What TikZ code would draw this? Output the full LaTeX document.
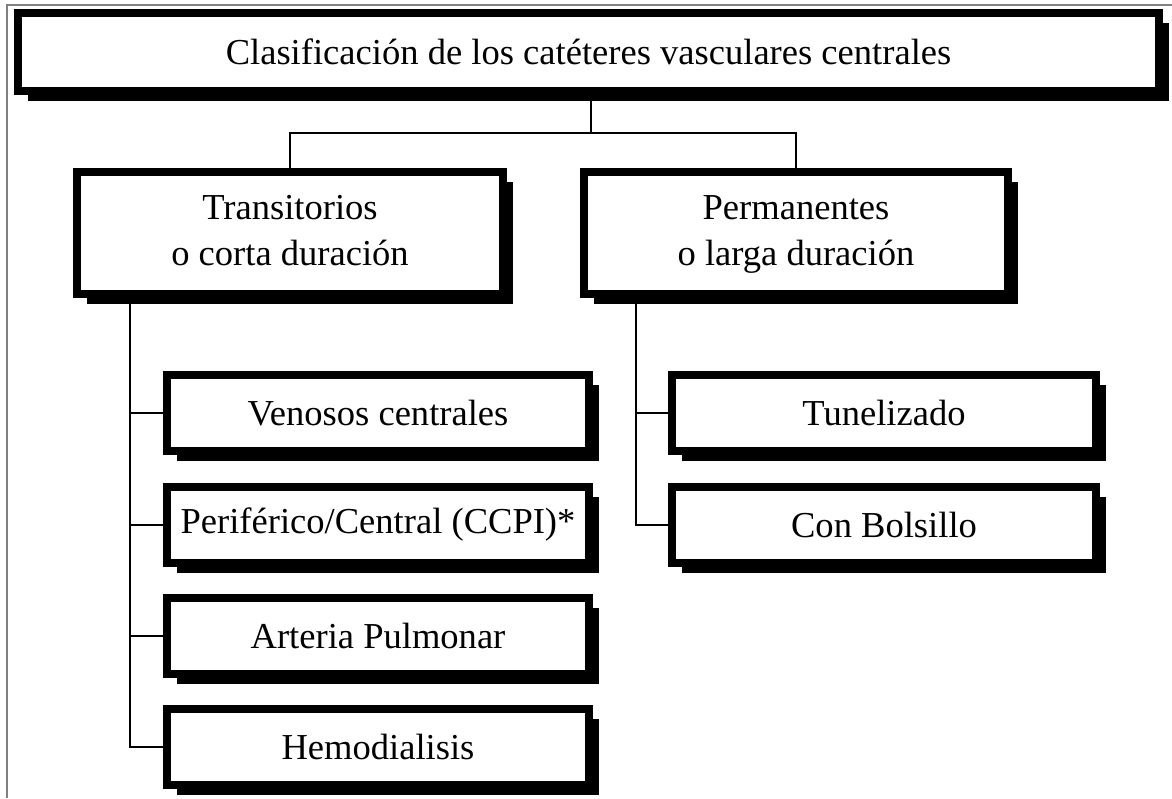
\documentclass[tikz,border=0pt]{standalone}
\usepackage{fontspec}
\setmainfont{Liberation Serif}
\usetikzlibrary{shadows}

\tikzset{
  catbox/.style={draw, fill=white, line width=4.5pt, rectangle, align=center,
    font=\fontsize{20.8}{26.5}\selectfont,
    drop shadow={opacity=1, fill=black, shadow xshift=0.2cm, shadow yshift=-0.2cm}},
  link/.style={line width=0.8pt},
  trunk/.style={line width=1.3pt}
}

\begin{document}
\begin{tikzpicture}[x=0.02cm, y=-0.02cm]
	  \useasboundingbox (0, 0) rectangle (1172, 798);
	  % outer frame
	  \draw[gray, line width=0.8pt](7, 798) |- (1172, 5);
	  % title
	  \node[catbox, minimum width=22.82cm, minimum height=1.56cm] (title) at (588.5, 52)
	    {Clasificaci\'on de los cat\'eteres vasculares centrales};
	  % second level
	  \node[catbox, minimum width=8.52cm, minimum height=2.44cm] (trans) at (290, 233)
	    {\strut Transitorios\\o corta duraci\'on\strut};
	  \node[catbox, minimum width=8.48cm, minimum height=2.44cm] (perm) at (796, 233)
	    {\strut Permanentes\\o larga duraci\'on\strut};
	  % left column
	  \node[catbox, minimum width=8.44cm, minimum height=1.52cm] (venosos) at (378, 413) {Venosos centrales};
	  \node[catbox, minimum width=8.44cm, minimum height=1.52cm] (perif) at (378, 525) {Perif\'erico/Central (CCPI)*};
	  \node[catbox, minimum width=8.44cm, minimum height=1.52cm] (arteria) at (378, 636) {Arteria Pulmonar};
	  \node[catbox, minimum width=8.44cm, minimum height=1.52cm] (hemo) at (378, 747) {Hemodialisis};
	  % right column
	  \node[catbox, minimum width=8.48cm, minimum height=1.52cm] (tunel) at (884, 413) {Tunelizado};
	  \node[catbox, minimum width=8.48cm, minimum height=1.52cm] (bolsillo) at (884, 525) {Con Bolsillo};
	  % connectors from the title
	  \coordinate (split) at (591, 133);
	  \draw[link](title.south -| split) -- (split);
	  \draw[link](trans.north) |- (split) -| (perm.north);
	  % trunks
	  \coordinate (lt) at (130, 300);
	  \coordinate (rt) at (636, 300);
	  \foreach \n in {venosos, perif, arteria, hemo}
	    \draw[trunk](lt) |- (\n.west);
	  \foreach \n in {tunel, bolsillo}
	    \draw[trunk](rt) |- (\n.west);
	\end{tikzpicture}
\end{document}
